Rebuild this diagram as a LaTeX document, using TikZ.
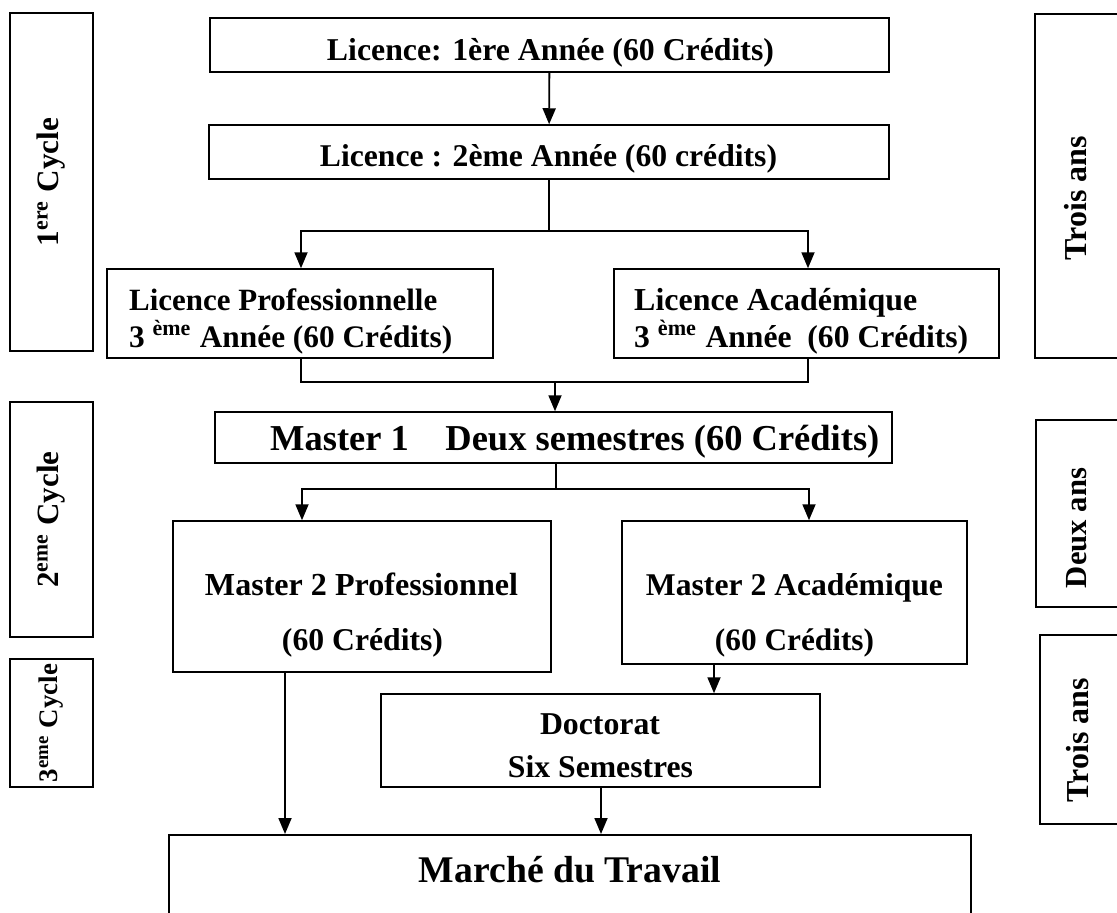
\documentclass[tikz,border=0pt]{standalone}
\usepackage{graphicx}
\usepackage{fontspec}
\setmainfont{Liberation Serif}
\usetikzlibrary{arrows.meta,calc}
\newcommand\W[2]{\resizebox{#1pt}{!}{\bfseries #2}}
\begin{document}
\begin{tikzpicture}[x=1pt,y=-1pt,
  box/.style={draw, line width=1.5pt, inner sep=0pt},
  side/.style={draw, line width=1.5pt, inner sep=0pt, rotate=90},
  txt/.style={anchor=base, inner sep=0pt},
  vtxt/.style={inner sep=0pt, rotate=90},
  ln/.style={line width=1.8pt},
  arr/.style={line width=1.8pt, -{Triangle[length=16pt,width=13pt]}}]
\useasboundingbox (0,0) rectangle (1117,913);
\clip (0,0) rectangle (1117,913);
% left cycle boxes
\node[side, minimum width=338pt, minimum height=83pt] (c1) at (51.5,182) {\W{128}{1\textsuperscript{ere} Cycle}};
\node[side, minimum width=235pt, minimum height=83pt] (c2) at (51.5,519.5) {\W{136}{2\textsuperscript{eme} Cycle}};
\node[side, minimum width=128pt, minimum height=83pt] (c3) at (51.5,723) {\W{118}{3\textsuperscript{eme} Cycle}};
% right duration boxes
\node[side, minimum width=344pt, minimum height=86pt] (r1) at (1078,186) {};
\node[vtxt] (r1t) at (1076,198) {\W{124}{Trois ans}};
\node[side, minimum width=187pt, minimum height=84pt] (r2) at (1078,513.5) {};
\node[vtxt] (r2t) at (1077,528) {\W{120}{Deux ans}};
\node[side, minimum width=189pt, minimum height=80pt] (r3) at (1080,729.5) {};
\node[vtxt] (r3t) at (1078,740) {\W{124}{Trois ans}};
% main boxes
\node[box, minimum width=679pt, minimum height=54pt] (l1) at (549.5,45) {};
\node[txt] (l1t) at (550.5,60) {\W{447}{Licence: 1ère Année (60 Crédits)}};
\node[box, minimum width=680pt, minimum height=54pt] (l2) at (549,152) {};
\node[txt] (l2t) at (548.5,166) {\W{457}{Licence : 2ème Année (60 crédits)}};
\node[box, minimum width=386pt, minimum height=89pt] (lp) at (300,313.5) {};
\node[txt, anchor=base west] (lp1) at (129,310) {\W{308}{Licence Professionnelle}};
\node[txt, anchor=base west] (lp2) at (129,347) {\W{323}{3 \textsuperscript{ème} Année (60 Crédits)}};
\node[box, minimum width=385pt, minimum height=89pt] (la) at (806.5,313.5) {};
\node[txt, anchor=base west] (la1) at (634,310) {\W{283}{Licence Académique}};
\node[txt, anchor=base west] (la2) at (634,347) {\W{334}{3 \textsuperscript{ème} Année\ \ (60 Crédits)}};
\node[box, minimum width=677pt, minimum height=51pt] (m1) at (553.5,437.5) {};
\node[txt, anchor=base west] (m1t) at (270,450) {\W{609}{Master 1\quad Deux semestres (60 Crédits)}};
\node[box, minimum width=378pt, minimum height=151pt] (m2p) at (362,596.5) {};
\node[txt] (m2p1) at (361.5,595) {\W{313}{Master 2 Professionnel}};
\node[txt] (m2p2) at (362.5,650) {\W{161}{(60 Crédits)}};
\node[box, minimum width=345pt, minimum height=143pt] (m2a) at (794.5,592.5) {};
\node[txt] (m2a1) at (794.5,595) {\W{297}{Master 2 Académique}};
\node[txt] (m2a2) at (794.5,650) {\W{159}{(60 Crédits)}};
\node[box, minimum width=439pt, minimum height=93pt] (doc) at (600.5,740.5) {};
\node[txt] (doc1) at (600,734) {\W{120}{Doctorat}};
\node[txt] (doc2) at (600.5,777) {\W{185}{Six Semestres}};
\node[box, minimum width=802pt, minimum height=200pt, anchor=north] (mar) at (570,834) {};
\node[txt] (mart) at (570,882) {\W{302}{Marché du Travail}};
% coordinates
\coordinate (s1) at (549,231);
\coordinate (j1) at (555,382);
\coordinate (s2) at (556,489);
% connectors
\draw[arr] (l1) -- (l2);
\draw[ln] (l2.south) -- (s1);
\draw[arr] (s1) -| (301,0 |- lp.north);
\draw[arr] (s1) -| (808,0 |- la.north);
\draw[ln] (301,0 |- lp.south) |- (j1) -| (808,0 |- la.south);
\draw[arr] (j1) -- (555,0 |- m1.north);
\draw[ln] (556,0 |- m1.south) -- (s2);
\draw[arr] (s2) -| (302,0 |- m2p.north);
\draw[arr] (s2) -| (809,0 |- m2a.north);
\draw[arr] (714,0 |- m2a.south) -- (714,0 |- doc.north);
\draw[arr] (285,0 |- m2p.south) -- (285,0 |- mar.north);
\draw[arr] (601,0 |- doc.south) -- (601,0 |- mar.north);
\end{tikzpicture}
\end{document}
